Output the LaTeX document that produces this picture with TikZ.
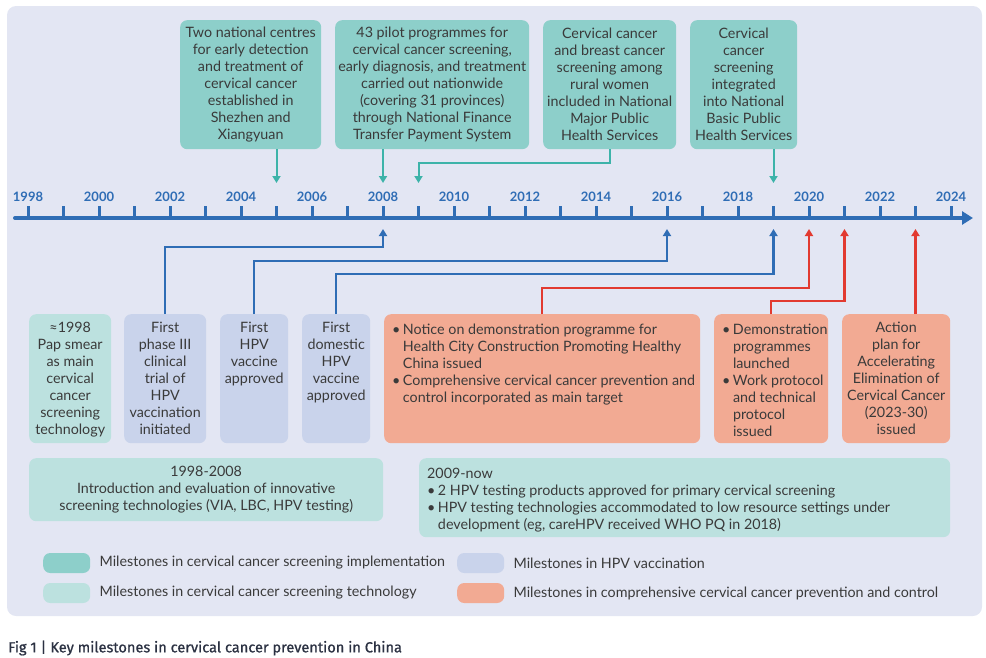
\documentclass[tikz,border=0pt]{standalone}
\usepackage{fontspec}
\setmainfont{Lato}
\newfontfamily\capfont{Fira Sans}[BoldFont={Fira Sans},BoldFeatures={FakeBold=0.9}]
\usetikzlibrary{arrows.meta,positioning}
\definecolor{panelbg}{HTML}{E3E6F3}
\definecolor{implfill}{HTML}{8DCFCA}
\definecolor{techfill}{HTML}{BCE1DF}
\definecolor{vaccfill}{HTML}{C9D3EB}
\definecolor{compfill}{HTML}{F2AA93}
\definecolor{tealarr}{HTML}{3DB3A9}
\definecolor{bluearr}{HTML}{2F6DB5}
\definecolor{redarr}{HTML}{E23A30}
\definecolor{ink}{HTML}{3A3A3A}
\definecolor{capink}{HTML}{2B3142}
\newcommand\bodysize{\fontsize{14.3}{17}\selectfont}
\tikzset{
  card/.style={rounded corners=7pt, inner sep=0pt, anchor=north west, align=center,
    font=\bodysize, text=ink},
  implbox/.style={card, fill=implfill},
  techbox/.style={card, fill=techfill},
  vaccbox/.style={card, fill=vaccfill},
  compbox/.style={card, fill=compfill},
  cardtext/.style={inner sep=0pt, font=\bodysize, text=ink},
  midtext/.style={cardtext, anchor=north, align=center, yshift=-8pt},
  lefttext/.style={cardtext, anchor=north west, align=left, xshift=8pt, yshift=-8pt},
  yearlabel/.style={anchor=base, inner sep=0pt, text=bluearr, font=\fontsize{13}{15}\selectfont\bfseries},
  timeline/.style={draw=bluearr, line width=4pt, line cap=round, -{Triangle[length=11pt,width=13pt]}},
  tick/.style={draw=bluearr, line width=3pt},
  tealline/.style={draw=tealarr, line width=2pt, -{Triangle[length=7pt,width=8pt]}},
  blueline/.style={draw=bluearr, line width=2.2pt, -{Triangle[length=7pt,width=8pt]}},
  redline/.style={draw=redarr, line width=2.2pt, -{Triangle[length=7pt,width=8pt]}},
  keybox/.style={rounded corners=7pt, minimum width=47pt, minimum height=20pt, anchor=west, inner sep=0pt},
  keytext/.style={right=9pt of #1, inner sep=0pt, font=\bodysize, text=ink}
}
\newcommand\bul{\textbullet}
\begin{document}
\begin{tikzpicture}[x=1pt,y=-1pt]
\useasboundingbox (0,0) rectangle (986,657);
\fill[panelbg, rounded corners=9pt] (7,6) rectangle (982,616);

% timeline
\coordinate (tl0) at (15,218);
\coordinate (tl1) at (973,218);
\draw[timeline] (tl0) -- (tl1);
\foreach \yr in {1998,...,2024} {
  \coordinate (t\yr) at ({28+(\yr-1998)*35.5},218);
  \coordinate (up\yr) at ({28+(\yr-1998)*35.5},183);
  \coordinate (dn\yr) at ({28+(\yr-1998)*35.5},229);
  \draw[tick] (t\yr) -- ++(0,-12);
}
\foreach \yr in {1998,2000,...,2024}
  \path (t\yr) ++(0,-17) node[yearlabel] (l\yr) {\yr};

% screening implementation
\node[implbox, minimum width=141, minimum height=129] (c1) at (180,20)
  {Two national centres\\for early detection\\and treatment of\\cervical cancer\\established in\\Shezhen and\\Xiangyuan};
\node[implbox, minimum width=194, minimum height=129] (c2) at (335,20)
  {43 pilot programmes for\\cervical cancer screening,\\early diagnosis, and treatment\\carried out nationwide\\(covering 31 provinces)\\through National Finance\\Transfer Payment System};
\node[implbox, minimum width=133, minimum height=129] (c3) at (543,20)
  {Cervical cancer\\and breast cancer\\screening among\\rural women\\included in National\\Major Public\\Health Services};
\node[implbox, minimum width=107, minimum height=129] (c4) at (690,20)
  {Cervical\\cancer\\screening\\integrated\\into National\\Basic Public\\Health Services};
\draw[tealline] (c1.south -| up2005) -- (up2005);
\draw[tealline] (c2.south -| up2008) -- (up2008);
\draw[tealline] (c3.south) -- ++(0,14) -| (up2009);
\draw[tealline] (c4.south -| up2019) -- (up2019);

% technology, vaccination, comprehensive
\node[techbox, minimum width=82, minimum height=129] (s1) at (29,314) {};
\node[midtext] at (s1.north) {≈1998\\Pap smear\\as main\\cervical\\cancer\\screening\\technology};
\node[vaccbox, minimum width=82, minimum height=129] (v1) at (124,314) {};
\node[midtext] at (v1.north) {First\\phase III\\clinical\\trial of\\HPV\\vaccination\\initiated};
\node[vaccbox, minimum width=68, minimum height=129] (v2) at (220,314) {};
\node[midtext] at (v2.north) {First\\HPV\\vaccine\\approved};
\node[vaccbox, minimum width=68, minimum height=129] (v3) at (302,314) {};
\node[midtext] at (v3.north) {First\\domestic\\HPV\\vaccine\\approved};
\node[compbox, minimum width=316, minimum height=129] (p1) at (384,314) {};
\node[lefttext] at (p1.north west) {\begin{tabular}{@{}l@{\hspace{2.5pt}}l@{}}
  \bul & Notice on demonstration programme for\\
  & Health City Construction Promoting Healthy\\
  & China issued\\
  \bul & Comprehensive cervical cancer prevention and\\
  & control incorporated as main target
  \end{tabular}};
\node[compbox, minimum width=114, minimum height=129] (p2) at (714,314) {};
\node[lefttext] at (p2.north west) {\begin{tabular}{@{}l@{\hspace{2.5pt}}l@{}}
  \bul & Demonstration\\ & programmes\\ & launched\\
  \bul & Work protocol\\ & and technical\\ & protocol\\ & issued
  \end{tabular}};
\node[compbox, minimum width=108, minimum height=129] (p3) at (842,314) {};
\node[midtext] at (p3.north) {Action\\plan for\\Accelerating\\Elimination of\\Cervical Cancer\\(2023-30)\\issued};
\draw[blueline] (v1.north) -- ++(0,-67) -| (dn2008);
\draw[blueline] (v2.north) -- ++(0,-53) -| (dn2016);
\draw[blueline] (v3.north) -- ++(0,-40) -| (dn2019);
\draw[redline] (p1.north) -- ++(0,-26) -| (dn2020);
\draw[redline] (p2.north) -- ++(0,-13) -| (dn2021);
\draw[redline] (p3.north -| dn2023) -- (dn2023);

% technology periods
\node[techbox, minimum width=354, minimum height=63] (s2) at (29,458) {};
\node[midtext] at (s2.north) {1998-2008\\Introduction and evaluation of innovative\\screening technologies (VIA, LBC, HPV testing)};
\node[techbox, minimum width=531, minimum height=79] (s3) at (419,458) {};
\node[lefttext] at (s3.north west) {\begin{tabular}{@{}l@{\hspace{2.5pt}}l@{}}
  \multicolumn{2}{@{}l@{}}{2009-now}\\
  \bul & 2 HPV testing products approved for primary cervical screening\\
  \bul & HPV testing technologies accommodated to low resource settings under\\
  & development (eg, careHPV received WHO PQ in 2018)
  \end{tabular}};

% key
\node[keybox, fill=implfill] (k1) at (43,563) {};
\node[keytext=k1] {Milestones in cervical cancer screening implementation};
\node[keybox, fill=techfill] (k2) at (43,593) {};
\node[keytext=k2] {Milestones in cervical cancer screening technology};
\node[keybox, fill=vaccfill] (k3) at (457,563) {};
\node[keytext=k3] {Milestones in HPV vaccination};
\node[keybox, fill=compfill] (k4) at (457,593) {};
\node[keytext=k4] {Milestones in comprehensive cervical cancer prevention and control};

\node[anchor=west, inner sep=0pt, text=capink, font=\capfont\bfseries\fontsize{14.6}{16}\selectfont] (cap) at (8,648)
  {Fig 1 | Key milestones in cervical cancer prevention in China};
\end{tikzpicture}
\end{document}
